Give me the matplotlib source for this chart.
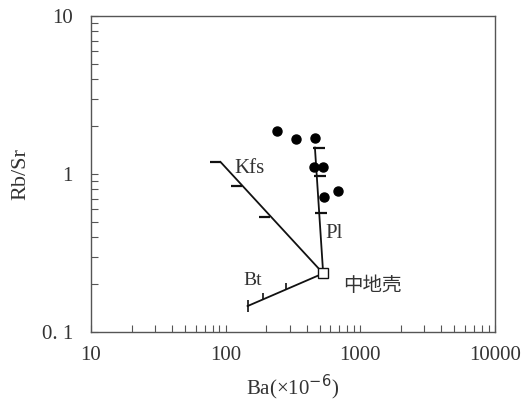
import matplotlib.pyplot as plt
from matplotlib.path import Path

plt.rcParams['font.family'] = ['Liberation Serif', 'Noto Sans CJK SC']

# sample points
ba = [243, 331, 461, 451, 531, 540, 685]
rbsr = [1.87, 1.66, 1.70, 1.11, 1.11, 0.718, 0.78]

# middle crust
crust_ba = 531
crust_rbsr = 0.235

# fractionation vectors (end point + tick marks)
kfs_end = (91.9, 1.19)
kfs_ticks_ba = [91.9, 131.5, 213]
kfs_ticks_rbsr = [1.19, 0.84, 0.537]

pl_end = (461, 1.47)
pl_ticks_ba = [461, 469, 480]
pl_ticks_rbsr = [1.47, 0.975, 0.564]

bt_end = (145.7, 0.146)
bt_ticks_ba = [190, 281]
bt_ticks_rbsr = [0.160, 0.184]

fig = plt.figure(figsize=(5.23, 4.01), dpi=100)
ax = fig.add_axes([0.174, 0.172, 0.772, 0.788])
ax.set_xscale('log')
ax.set_yscale('log')
ax.set_xlim(10, 10000)
ax.set_ylim(0.1, 10)

ink = '#111111'
# lines from crust to end points
for e in (kfs_end, pl_end, bt_end):
    ax.plot([crust_ba, e[0]], [crust_rbsr, e[1]], color=ink, lw=1.3, zorder=2)

left_tick = Path([(-1, 0), (0, 0)])
right_tick = Path([(-0.25, 0), (1, 0)])
up_tick = Path([(0, 0), (0, 1)])
ax.plot(kfs_ticks_ba, kfs_ticks_rbsr, ls='none', marker=left_tick, ms=16, mew=1.6, color=ink)
ax.plot(pl_ticks_ba, pl_ticks_rbsr, ls='none', marker=right_tick, ms=14, mew=1.6, color=ink)
ax.plot(bt_ticks_ba, bt_ticks_rbsr, ls='none', marker=up_tick, ms=10, mew=1.2, color=ink)
ax.plot([bt_end[0]], [bt_end[1]], ls='none', marker='|', ms=8, mew=1.2, color=ink)

ax.plot(ba, rbsr, ls='none', marker='o', ms=6.5, color='black', zorder=3)
ax.plot([crust_ba], [crust_rbsr], ls='none', marker='s', ms=7.5, mfc='white',
        mec=ink, mew=1.0, zorder=4)

txt = '#333333'
ax.text(117, 1.09, 'Kfs', fontsize=15, color=txt, va='center')
ax.text(547, 0.423, 'Pl', fontsize=15, color=txt, va='center')
ax.text(134.5, 0.213, 'Bt', fontsize=14, color=txt, va='center')
ax.text(743, 0.198, '中地壳', fontsize=14, color=txt, va='center',
        family=['Noto Sans CJK SC', 'DejaVu Sans'])

for s in ax.spines.values():
    s.set_color('#555555')
    s.set_linewidth(1.0)

ax.set_xticks([10, 100, 1000, 10000])
ax.set_xticklabels(['10', '100', '1000', '10000'])
ax.set_yticks([0.1, 1, 10])
ax.set_yticklabels(['0. 1', '1', '10'])
ax.tick_params(which='both', direction='in', length=5, width=0.8, color='#555555',
               top=False, right=False, labelsize=15, labelcolor=txt)
ax.tick_params(axis='x', which='both', pad=10)
ax.tick_params(axis='y', which='both', pad=13)

ax.set_xlabel('Ba(×10$^{-6}$)', fontsize=15, color=txt, labelpad=6)
ax.set_ylabel('Rb/Sr', fontsize=16, color=txt, labelpad=8)

fig.savefig('out.png', dpi=100)
